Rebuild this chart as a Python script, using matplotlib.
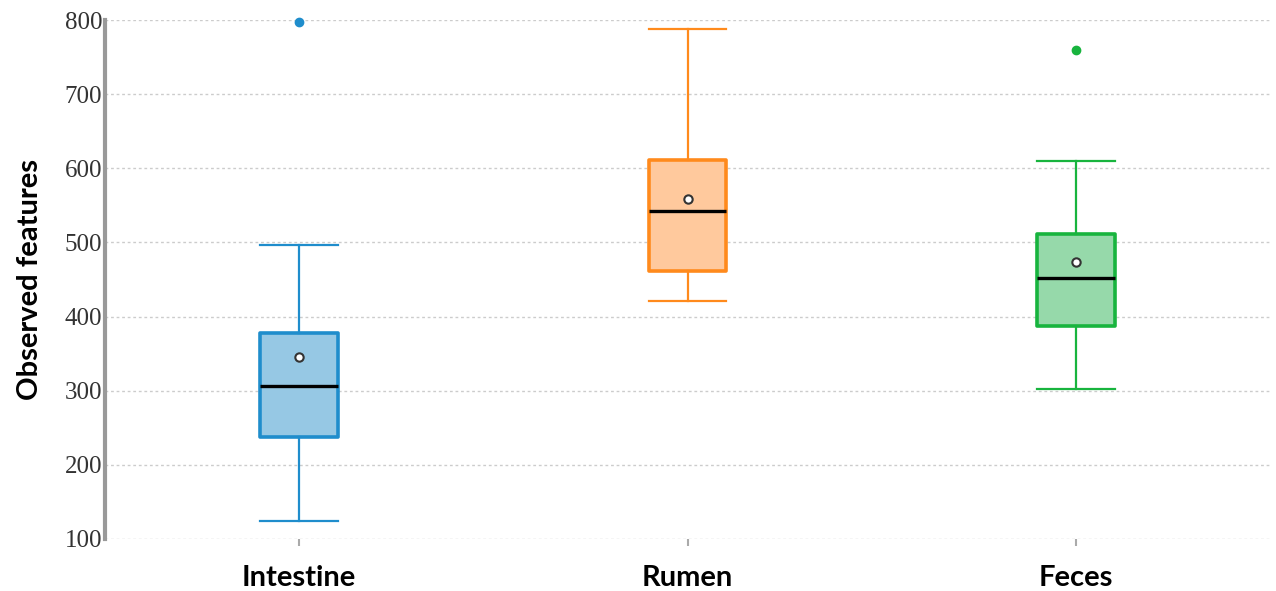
import matplotlib
matplotlib.use("Agg")
import matplotlib.pyplot as plt

# Observed features per sample site
groups = ["Intestine", "Rumen", "Feces"]
q1 = [238, 461, 387]
median = [306, 542, 452]
q3 = [378, 611, 512]
whisker_low = [124, 421, 303]
whisker_high = [497, 788, 610]
means = [346, 559, 473]
outliers = [[798], [], [760]]

edge_colors = ["#1f8dcc", "#ff8a1c", "#18b43e"]
fill_colors = ["#96c8e4", "#ffc99d", "#96d9aa"]

stats = []
for i, g in enumerate(groups):
    stats.append({
        "label": g, "q1": q1[i], "med": median[i], "q3": q3[i],
        "whislo": whisker_low[i], "whishi": whisker_high[i],
        "mean": means[i], "fliers": outliers[i],
    })

fig = plt.figure(figsize=(12.76, 5.91), dpi=100)
ax = fig.add_axes([0.0823, 0.088, 0.913, 0.878])

positions = [1, 2, 3]
for i, s in enumerate(stats):
    ec = edge_colors[i]
    ax.bxp([s], positions=[positions[i]], widths=0.2, patch_artist=True,
           showmeans=True, showfliers=True,
           boxprops=dict(facecolor=fill_colors[i], edgecolor=ec, linewidth=2.6,
                         joinstyle="round"),
           whiskerprops=dict(color=ec, linewidth=1.6),
           capprops=dict(color=ec, linewidth=1.6),
           medianprops=dict(color="black", linewidth=2.4),
           meanprops=dict(marker="o", markerfacecolor="white",
                          markeredgecolor="#333333", markersize=6,
                          markeredgewidth=1.5),
           flierprops=dict(marker="o", markerfacecolor=ec, markeredgecolor=ec,
                           markersize=6),
           capwidths=0.2)

for line in ax.lines:
    line.set_clip_on(False)

ax.set_xlim(0.5, 3.5)
ax.set_ylim(100, 800)
ax.set_yticks(range(100, 801, 100))
ax.set_xticks(positions)
ax.set_xticklabels(groups, fontfamily="Lato", fontweight="bold", fontsize=21,
                   color="black")
for t in ax.get_yticklabels():
    t.set_fontfamily("Liberation Serif")
    t.set_fontsize(18)
    t.set_color("#333333")

ax.yaxis.grid(True, linestyle=(0, (2, 2)), color="#cccccc", linewidth=1)
ax.set_axisbelow(True)
for side in ["top", "right", "bottom"]:
    ax.spines[side].set_visible(False)
ax.spines["left"].set_color("#999999")
ax.spines["left"].set_linewidth(3)
ax.tick_params(axis="y", length=0, pad=2)
ax.tick_params(axis="x", length=5, color="#aaaaaa", width=1.5, pad=14)

ax.set_ylabel("Observed features", fontfamily="Lato", fontweight="bold",
              fontsize=21, labelpad=16)

fig.savefig("out.png", dpi=100, facecolor="white")
